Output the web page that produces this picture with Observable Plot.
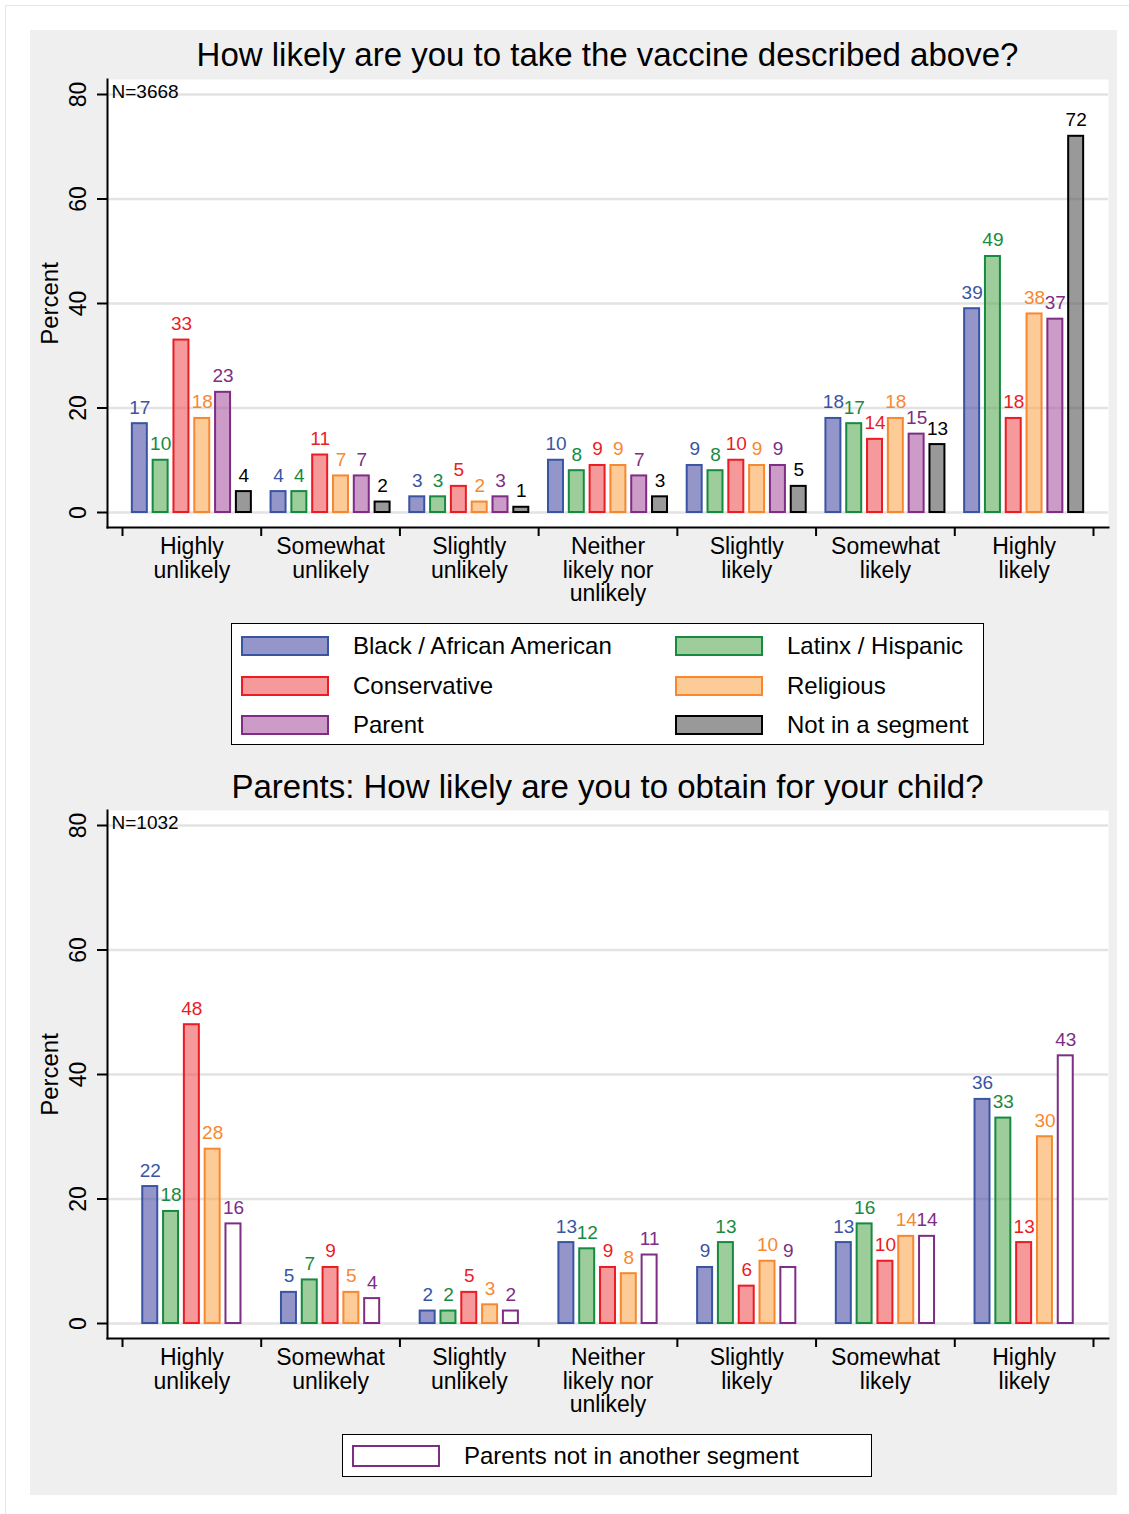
<!DOCTYPE html>
<html><head><meta charset="utf-8">
<script src="https://cdn.jsdelivr.net/npm/d3@7"></script>
<script src="https://cdn.jsdelivr.net/npm/@observablehq/plot@0.6"></script>
<style>
body{margin:0;background:#fff;font-family:"Liberation Sans",Arial,Helvetica,sans-serif;}
#page{position:relative;width:1129px;height:1514px;overflow:hidden;}
#edge{position:absolute;left:5px;top:5px;width:2000px;height:3000px;border-left:1px solid #e6e6e6;border-top:1px solid #e6e6e6;}
#panel{position:absolute;left:30px;top:30px;width:1087px;height:1465px;background:#efefef;}
.title{position:absolute;left:77px;width:1001px;text-align:center;font-size:33px;line-height:33px;color:#000;white-space:nowrap;}
.chart{position:absolute;left:0;}
.legend{position:absolute;background:#fff;border:1.5px solid #000;box-sizing:border-box;}
.item{position:absolute;display:flex;align-items:center;font-size:24px;line-height:24px;white-space:nowrap;color:#000;}
.sw{box-sizing:border-box;border:2px solid;width:88px;}
</style>
</head>
<body>
<div id="page"><div id="edge"></div>
<div id="panel">
  <div class="title" id="t1" style="top:8px"></div>
  <div class="chart" id="c1" style="top:45px"></div>
  <div class="legend" id="l1" style="left:201px;top:593px;width:753px;height:122px"></div>
  <div class="title" id="t2" style="top:740px"></div>
  <div class="chart" id="c2" style="top:776px"></div>
  <div class="legend" id="l2" style="left:312px;top:1404px;width:530px;height:43px"></div>
</div>
</div>
<script>
// ---------- data ----------
const titleTop = "How likely are you to take the vaccine described above?";
const titleBottom = "Parents: How likely are you to obtain for your child?";
const categories = ["Highly\nunlikely", "Somewhat\nunlikely", "Slightly\nunlikely", "Neither\nlikely nor\nunlikely", "Slightly\nlikely", "Somewhat\nlikely", "Highly\nlikely"];
const yTicks = [0, 20, 40, 60, 80];
const yLabel = "Percent";
const nTop = "N=3668";
const nBottom = "N=1032";

const seriesTop = ["Black / African American", "Latinx / Hispanic", "Conservative", "Religious", "Parent", "Not in a segment"];
const blackAll = [17, 4, 3, 10, 9, 18, 39];
const latinxAll = [10, 4, 3, 8, 8, 17, 49];
const conservativeAll = [33, 11, 5, 9, 10, 14, 18];
const religiousAll = [18, 7, 2, 9, 9, 18, 38];
const parentAll = [23, 7, 3, 7, 9, 15, 37];
const noSegmentAll = [4, 2, 1, 3, 5, 13, 72];

const seriesBottom = ["Black / African American", "Latinx / Hispanic", "Conservative", "Religious", "Parents not in another segment"];
const blackParents = [22, 5, 2, 13, 9, 13, 36];
const latinxParents = [18, 7, 2, 12, 13, 16, 33];
const conservativeParents = [48, 9, 5, 9, 6, 10, 13];
const religiousParents = [28, 5, 3, 8, 10, 14, 30];
const parentOnlyParents = [16, 4, 2, 11, 9, 14, 43];

// ---------- styles ----------
const seriesStyle = {
  "Black / African American": {fill: "#4d50a5", opacity: 0.6, stroke: "#3a54a4", text: "#3a54a4"},
  "Latinx / Hispanic": {fill: "#5cac57", opacity: 0.6, stroke: "#178a42", text: "#178a42"},
  "Conservative": {fill: "#ee5558", opacity: 0.6, stroke: "#ec1c24", text: "#ec1c24"},
  "Religious": {fill: "#fca852", opacity: 0.6, stroke: "#f7882f", text: "#f7882f"},
  "Parent": {fill: "#aa58a3", opacity: 0.6, stroke: "#7e2d84", text: "#7e2d84"},
  "Not in a segment": {fill: "#555555", opacity: 0.6, stroke: "#000000", text: "#000000"},
  "Parents not in another segment": {fill: "#ffffff", opacity: 1, stroke: "#7e2d84", text: "#7e2d84"}
};
const BAR_STEP = 0.15;   // in category widths
const BAR_HALF = 0.054;
const FONT = '"Liberation Sans", Arial, Helvetica, sans-serif';

function chart(seriesNames, valuesList, nLabel, height, marginBottom) {
  const n = seriesNames.length;
  const rows = [];
  seriesNames.forEach((s, j) => valuesList[j].forEach((v, i) => rows.push({series: s, i, j, n, value: v})));
  const center = d => d.i + 0.5 + (d.j - (d.n - 1) / 2) * BAR_STEP;
  const boundaries = categories.map((_, i) => i).concat([categories.length]);
  const centers = categories.map((_, i) => i + 0.5);
  const marks = [
    Plot.frame({fill: "white", stroke: null}),
    Plot.gridY({ticks: yTicks, stroke: "#e3e3e3", strokeOpacity: 1, strokeWidth: 2.5})
  ];
  seriesNames.forEach(s => {
    const st = seriesStyle[s];
    const sub = rows.filter(d => d.series === s);
    marks.push(Plot.rectY(sub, {
      x1: d => center(d) - BAR_HALF, x2: d => center(d) + BAR_HALF,
      y1: 0, y2: "value",
      fill: st.fill, fillOpacity: st.opacity, stroke: st.stroke, strokeWidth: 2
    }));
  });
  seriesNames.forEach(s => {
    const st = seriesStyle[s];
    const sub = rows.filter(d => d.series === s);
    marks.push(Plot.text(sub, {
      x: center, y: "value", text: d => String(d.value),
      fill: st.text, fontSize: 19, lineAnchor: "bottom", dy: -10
    }));
  });
  marks.push(
    Plot.axisY({ticks: yTicks, tickSize: 10, tickPadding: 12, tickRotate: -90, fontSize: 23, strokeWidth: 2, label: null}),
    Plot.text([yLabel], {text: d => d, frameAnchor: "left", rotate: -90, dx: -57, fontSize: 24, textAnchor: "middle", lineAnchor: "middle"}),
    Plot.axisX({ticks: boundaries, tickSize: 9, strokeWidth: 2, tickFormat: () => "", label: null}),
    Plot.axisX({ticks: centers, tickSize: 0, tickPadding: 10, tickFormat: t => categories[Math.floor(t)], fontSize: 23, lineHeight: 1.02, label: null}),
    Plot.frame({anchor: "left", strokeWidth: 2, stroke: "black"}),
    Plot.frame({anchor: "bottom", strokeWidth: 2, stroke: "black"}),
    Plot.text([nLabel], {text: d => d, frameAnchor: "top-left", dx: 4, dy: 5, fontSize: 19, textAnchor: "start"})
  );
  return Plot.plot({
    width: 1087, height,
    marginLeft: 77, marginRight: 9, marginTop: 4, marginBottom,
    style: {background: "transparent", fontFamily: FONT, fontSize: "23px", color: "black"},
    x: {type: "linear", domain: [0, categories.length], insetLeft: 15, insetRight: 15, axis: null},
    y: {domain: [yTicks[0], yTicks[yTicks.length - 1]], insetTop: 15, insetBottom: 15, axis: null},
    marks
  });
}

function legend(el, names, opts) {
  names.forEach((s, k) => {
    const st = seriesStyle[s];
    const r = Math.floor(k / opts.cols), c = k % opts.cols;
    const item = document.createElement("div");
    item.className = "item";
    item.style.left = (opts.left + c * opts.colWidth) + "px";
    item.style.top = (opts.top + r * opts.rowStep) + "px";
    item.style.height = opts.itemHeight + "px";
    const sw = document.createElement("div");
    sw.className = "sw";
    sw.style.height = opts.swHeight + "px";
    sw.style.borderColor = st.stroke;
    const col = d3.color(st.fill); col.opacity = st.opacity;
    sw.style.background = col.formatRgb();
    sw.style.marginRight = opts.gap + "px";
    const tx = document.createElement("span");
    tx.textContent = s;
    item.appendChild(sw); item.appendChild(tx);
    el.appendChild(item);
  });
}

document.getElementById("t1").textContent = titleTop;
document.getElementById("t2").textContent = titleBottom;
document.getElementById("c1").appendChild(chart(seriesTop,
  [blackAll, latinxAll, conservativeAll, religiousAll, parentAll, noSegmentAll], nTop, 540, 88));
document.getElementById("c2").appendChild(chart(seriesBottom,
  [blackParents, latinxParents, conservativeParents, religiousParents, parentOnlyParents], nBottom, 619, 87));
legend(document.getElementById("l1"), seriesTop, {cols: 2, left: 9, top: 10, colWidth: 434, rowStep: 39.5, itemHeight: 24, swHeight: 20, gap: 24});
legend(document.getElementById("l2"), seriesBottom.slice(4), {cols: 1, left: 9, top: 8, colWidth: 0, rowStep: 0, itemHeight: 25, swHeight: 22, gap: 24});
</script>
</body></html>
